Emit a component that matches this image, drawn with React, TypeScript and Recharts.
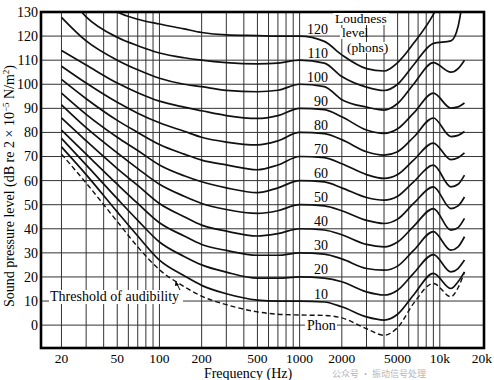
import React from 'react';
import { LineChart, Line, XAxis, YAxis, ReferenceLine } from 'recharts';

const FREQS = [20, 30, 50, 70, 100, 150, 200, 300, 500, 700, 1000, 1500, 2000, 3000, 4000, 5000, 6500, 9000, 12000, 13500, 15000];

const threshold = [71, 59, 43, 32.5, 23, 16, 12, 8.5, 5.5, 4.5, 4.2, 4, 3, -1.5, -4.2, -1, 9, 17.3, 11.8, 15.5, 22];
const phon10 = [74, 62.5, 47, 37, 27, 20.5, 16.5, 13, 10.4, 10, 10, 9.6, 7.6, 3.4, 2.1, 4.5, 12.5, 21.5, 15.2, 18, 22.1];
const phon20 = [77.5, 66.5, 52.5, 43.5, 34.5, 28.5, 25, 22, 19.5, 19.5, 20, 19.5, 18, 13.8, 12.5, 14.5, 21.5, 29.3, 22.1, 23.5, 27];
const phon30 = [81, 71, 58.5, 50.5, 42.5, 37, 33.5, 31, 29, 29, 30, 29.5, 27.5, 23.5, 22.8, 24.5, 31, 38.8, 31.1, 32.5, 36.7];
const phon40 = [86, 76.5, 65, 58, 50.5, 45, 41.5, 39, 37, 38, 40, 39.5, 37.5, 33.5, 32.5, 34.5, 41, 48.4, 39.4, 40.5, 44.3];
const phon50 = [91.5, 82, 71.5, 65, 58.5, 53.5, 50.5, 48, 46.4, 47.5, 50, 49.5, 47.5, 43.5, 42.2, 44, 50.5, 57.4, 48.4, 49.5, 53.2];
const phon60 = [96.3, 87.5, 78, 72.5, 66.5, 62, 59.5, 57, 55, 57, 60, 59.5, 57, 53, 51.9, 53.5, 59.5, 66.4, 57.4, 58.5, 62.3];
const phon70 = [102, 94, 85, 80, 75, 71, 68.5, 66.5, 64.5, 66.5, 70, 69.5, 67, 62.5, 60.9, 62.5, 68.5, 75.6, 68.7, 69.5, 71.5];
const phon80 = [107.5, 100.5, 92.5, 88, 84, 80.5, 78, 76, 74.8, 76.5, 80, 79.5, 77, 72, 70.6, 72, 78, 86, 78.3, 78.8, 80.4];
const phon90 = [114, 108, 100.5, 96.5, 93, 90.5, 89, 87, 85.8, 87, 90, 89.5, 86.5, 81, 79.6, 81.5, 88, 96.3, 90.1, 90.6, 92.2];
const phon100 = [127.8, 118, 110, 106, 102.5, 100, 99, 97.5, 96.9, 97.5, 100, 99, 93.6, 90.5, 89.3, 92, 100, 109, 105, 106.5, 110];
const phon110 = [141, 128, 119.5, 116, 113, 111, 110, 109, 108.5, 108.8, 110, 108.8, 103.2, 98.8, 97.4, 100, 108, 117, 118, 124, 140];
const phon120 = [150, 140, 130, 127, 125, 123, 121.5, 120.5, 120.2, 120, 120, 117.8, 112.2, 106.5, 105.5, 109, 117, 129, 145, null, null];

const CURVES: { key: string; values: (number | null)[]; phon: number }[] = [
  { key: 'p120', values: phon120, phon: 120 },
  { key: 'p110', values: phon110, phon: 110 },
  { key: 'p100', values: phon100, phon: 100 },
  { key: 'p90', values: phon90, phon: 90 },
  { key: 'p80', values: phon80, phon: 80 },
  { key: 'p70', values: phon70, phon: 70 },
  { key: 'p60', values: phon60, phon: 60 },
  { key: 'p50', values: phon50, phon: 50 },
  { key: 'p40', values: phon40, phon: 40 },
  { key: 'p30', values: phon30, phon: 30 },
  { key: 'p20', values: phon20, phon: 20 },
  { key: 'p10', values: phon10, phon: 10 },
];

const X_TICKS = [20, 50, 100, 200, 500, 1000, 2000, 5000, 10000, 20000];
const X_TICK_LABELS = ['20', '50', '100', '200', '500', '1000', '2000', '5000', '10k', '20k'];
const Y_TICKS = [0, 10, 20, 30, 40, 50, 60, 70, 80, 90, 100, 110, 120, 130];
const X_GRID = [20, 30, 40, 50, 60, 70, 80, 90, 100, 200, 300, 400, 500, 600, 700, 800, 900, 1000, 2000, 3000, 4000, 5000, 6000, 7000, 8000, 9000, 10000];
const Y_GRID = [0, 10, 20, 30, 40, 50, 60, 70, 80, 90, 100, 110, 120];

const data = FREQS.map((f, i) => {
  const row: Record<string, number | null> = { f, thr: threshold[i] };
  CURVES.forEach((c) => {
    row[c.key] = c.values[i];
  });
  return row;
});

const W = 494;
const H = 380;
const PLOT_TOP = 12;
const PLOT_BOTTOM = 348;
const PLOT_LEFT = 41;
const PLOT_RIGHT = 484;
const Y_MIN = -9.5;
const Y_MAX = 130;
const X_MIN = 14.29;
const X_MAX = 20668;
const yPx = (v: number) => PLOT_TOP + ((Y_MAX - v) / (Y_MAX - Y_MIN)) * (PLOT_BOTTOM - PLOT_TOP);

const FONT = '"Liberation Serif", "Times New Roman", serif';

export default function App() {
  return (
    <div style={{ position: 'absolute', left: 0, top: 0, width: W, height: H, background: '#fff' }}>
      <LineChart width={W} height={H} data={data} margin={{ top: PLOT_TOP, right: W - PLOT_RIGHT, bottom: 0, left: 0 }}>
        <XAxis
          dataKey="f"
          type="number"
          scale="log"
          domain={[X_MIN, X_MAX]}
          allowDataOverflow
          ticks={X_TICKS}
          tickFormatter={(v: number) => X_TICK_LABELS[X_TICKS.indexOf(v)] ?? String(v)}
          tick={{ fontFamily: FONT, fontSize: 13.5, fill: '#000' }}
          tickLine={false}
          axisLine={false}
          tickSize={0}
          tickMargin={5}
          height={H - PLOT_BOTTOM}
          interval={0}
        />
        <YAxis
          type="number"
          domain={[Y_MIN, Y_MAX]}
          allowDataOverflow
          ticks={Y_TICKS}
          tick={{ fontFamily: FONT, fontSize: 14, fill: '#000' }}
          tickLine={false}
          axisLine={false}
          tickSize={0}
          tickMargin={3}
          width={PLOT_LEFT}
          interval={0}
        />
        {X_GRID.map((x) => (
          <ReferenceLine key={'gx' + x} x={x} stroke="#333" strokeWidth={1} />
        ))}
        {Y_GRID.map((y) => (
          <ReferenceLine key={'gy' + y} y={y} stroke="#333" strokeWidth={1} />
        ))}
        {CURVES.map((c) => (
          <Line
            key={c.key}
            dataKey={c.key}
            type="monotone"
            stroke="#111"
            strokeWidth={1.7}
            dot={false}
            isAnimationActive={false}
            connectNulls={false}
          />
        ))}
        <Line
          dataKey="thr"
          type="monotone"
          stroke="#111"
          strokeWidth={1.4}
          strokeDasharray="5 3"
          dot={false}
          isAnimationActive={false}
        />
      </LineChart>
      <svg
        width={W}
        height={H}
        style={{ position: 'absolute', left: 0, top: 0, pointerEvents: 'none' }}
        fontFamily={FONT}
      >
        <rect x={PLOT_LEFT} y={PLOT_TOP} width={PLOT_RIGHT - PLOT_LEFT} height={PLOT_BOTTOM - PLOT_TOP} fill="none" stroke="#000" strokeWidth={2.6} />
        <text transform={`translate(14,186) rotate(-90)`} textAnchor="middle" fontSize={14} fill="#000">
          Sound pressure level (dB re 2 × 10
          <tspan dy={-5} fontSize={9}>−5</tspan>
          <tspan dy={5}> N/m</tspan>
          <tspan dy={-5} fontSize={9}>2</tspan>
          <tspan dy={5}>)</tspan>
        </text>
        <text x={248} y={378} textAnchor="middle" fontSize={14} fill="#000">Frequency (Hz)</text>
        {CURVES.map((c) => (
          <text key={'lbl' + c.key} x={328} y={yPx(c.phon) - 7} textAnchor="end" dominantBaseline="central" fontSize={14} fill="#000">
            {c.phon}
          </text>
        ))}
        <rect x={333} y={13} width={56} height={12} fill="#fff" />
        <text x={335} y={22.5} fontSize={13.5} fill="#000">Loudness</text>
        <rect x={340} y={28} width={22} height={11} fill="#fff" />
        <text x={342} y={37} fontSize={13.5} fill="#000">level</text>
        <rect x={346} y={42} width={46} height={11} fill="#fff" />
        <text x={347} y={52} fontSize={13.5} fill="#000">(phons)</text>
        <rect x={49} y={290} width={134} height={14} fill="#fff" />
        <text x={50} y={301} fontSize={14} fill="#000">Threshold of audibility</text>
        <line x1={180} y1={290} x2={177} y2={284} stroke="#000" strokeWidth={1} />
        <path d="M175.5,281 L179,285 L175,286 Z" fill="#000" />
        <rect x={305} y={319} width={32} height={13} fill="#fff" />
        <text x={307} y={330} fontSize={14} fill="#000">Phon</text>
        <text x={332} y={376.5} fontSize={9} fill="#9a9a9a" fillOpacity={0.75} fontFamily='"Noto Sans CJK SC", sans-serif'>
          公众号 · 振动信号处理
        </text>
      </svg>
    </div>
  );
}
